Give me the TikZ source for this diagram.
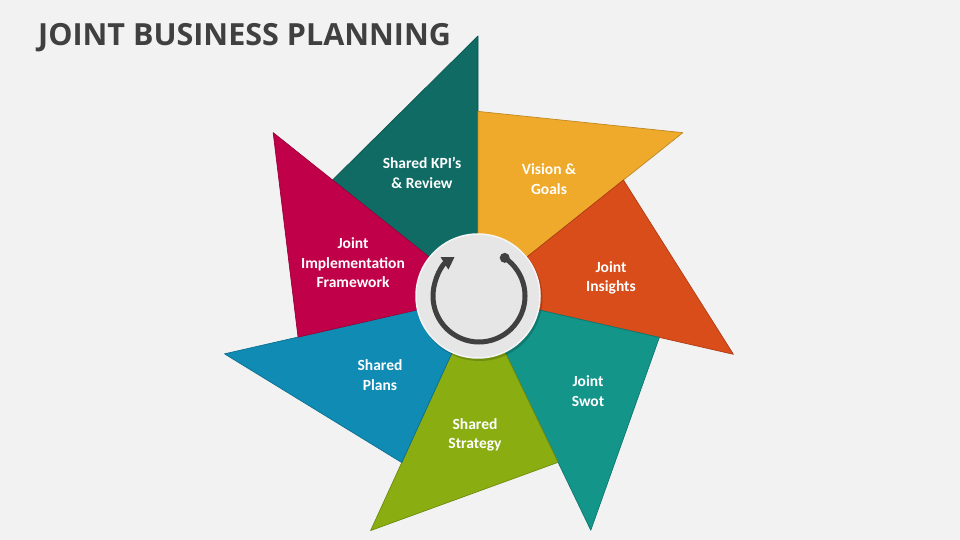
\documentclass[tikz,border=0pt]{standalone}
\usepackage{fontspec}
\setmainfont{Carlito}
\newfontfamily\headfont{Open Sans}
\usetikzlibrary{calc,arrows.meta}

\definecolor{bgcol}{HTML}{F2F2F2}
\definecolor{headcol}{HTML}{404040}
\definecolor{kpicol}{HTML}{0F6B64}
\definecolor{visioncol}{HTML}{EFAA2B}
\definecolor{insightcol}{HTML}{D94D1A}
\definecolor{swotcol}{HTML}{13958A}
\definecolor{strategycol}{HTML}{8AAE12}
\definecolor{planscol}{HTML}{0F8BB4}
\definecolor{frameworkcol}{HTML}{C00048}
\definecolor{hubcol}{HTML}{E6E6E6}
\definecolor{arrowcol}{HTML}{404040}

\tikzstyle{headline}=[font=\headfont\bfseries\fontsize{30.5}{36}\selectfont, text=headcol]
\tikzstyle{petal}=[line width=0.7pt, line join=round]
\tikzstyle{petaltext}=[text=white, font=\bfseries\fontsize{15.5}{19.5}\selectfont, align=center]
\tikzstyle{cyclearrow}=[draw=arrowcol, line width=5pt, -{Triangle[length=12pt, width=14pt]}]

\begin{document}
\begin{tikzpicture}[x=1pt, y=1pt, inner sep=0pt]
  \useasboundingbox[fill=bgcol] (0,0) rectangle (960,540);
  \node [headline, anchor=base west] (head) at (38,494) {JOINT BUSINESS PLANNING};

  % pinwheel centre and tips
  \coordinate (hub) at (478,244);
  \coordinate (kpi) at ($(hub)+(90:260)$);
  \coordinate (vision) at ($(hub)+(38.57:262)$);
  \coordinate (insights) at ($(hub)+(-12.86:262)$);
  \coordinate (swot) at ($(hub)+(-64.29:260)$);
  \coordinate (strategy) at ($(hub)+(-114.6:258)$);
  \coordinate (plans) at ($(hub)+(-167.14:260)$);
  \coordinate (framework) at ($(hub)+(141.43:262)$);

  \filldraw [petal, fill=kpicol, draw=kpicol!80!black] ($(framework)!0.29!(hub)$) -- (kpi) -- (hub) -- cycle;
  \filldraw [petal, fill=visioncol, draw=visioncol!80!black] ($(kpi)!0.29!(hub)$) -- (vision) -- (hub) -- cycle;
  \filldraw [petal, fill=insightcol, draw=insightcol!80!black] ($(vision)!0.29!(hub)$) -- (insights) -- (hub) -- cycle;
  \filldraw [petal, fill=swotcol, draw=swotcol!80!black] ($(insights)!0.29!(hub)$) -- (swot) -- (hub) -- cycle;
  \filldraw [petal, fill=strategycol, draw=strategycol!80!black] ($(swot)!0.29!(hub)$) -- (strategy) -- (hub) -- cycle;
  \filldraw [petal, fill=planscol, draw=planscol!80!black] ($(strategy)!0.29!(hub)$) -- (plans) -- (hub) -- cycle;
  \filldraw [petal, fill=frameworkcol, draw=frameworkcol!80!black] ($(plans)!0.29!(hub)$) -- (framework) -- (hub) -- cycle;

  \node [petaltext] (kpitext) at ($(hub)+(-56,123)$) {Shared KPI’s\\\& Review};
  \node [petaltext] (visiontext) at ($(hub)+(71,117)$) {Vision \&\\Goals};
  \node [petaltext] (insightstext) at ($(hub)+(133,18)$) {Joint\\Insights};
  \node [petaltext] (swottext) at ($(hub)+(110,-95)$) {Joint\\Swot};
  \node [petaltext] (strategytext) at ($(hub)+(-3,-139)$) {Shared\\Strategy};
  \node [petaltext] (planstext) at ($(hub)+(-98,-79)$) {Shared\\Plans};
  \node [petaltext] (frameworktext) at ($(hub)+(-125,33)$) {Joint\\Implementation\\Framework};

  % centre dial
  \fill [black, opacity=0.18] ($(hub)+(1.5,-2)$) circle (63);
  \node [circle, fill=hubcol, draw=white!60!hubcol, line width=1.5pt, minimum size=124pt] (dial) at (hub) {};
  \coordinate (dot) at ($(hub)+(1,0)+(56:46)$);
  \draw [cyclearrow] (dot) arc [start angle=56, end angle=-238, radius=46];
  \fill [arrowcol] (dot) circle (5);
\end{tikzpicture}
\end{document}
